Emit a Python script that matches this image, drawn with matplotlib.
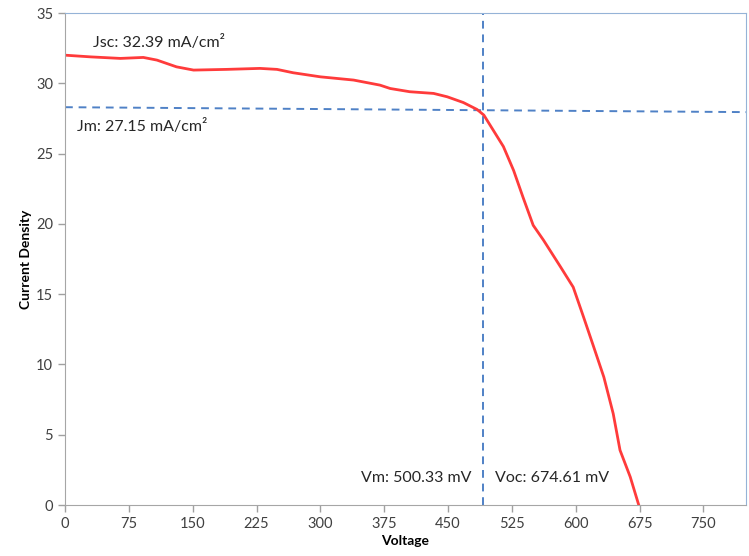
import matplotlib.pyplot as plt
import numpy as np

plt.rcParams['font.family'] = ['Lato', 'DejaVu Sans']

# J-V curve
voltage = [0, 30, 65, 92, 108, 131, 151, 190, 229, 249, 268, 300, 339, 370, 382, 405,
           433, 449, 468, 484, 492, 503, 515, 527, 538, 550, 562, 582, 597, 609, 621,
           633, 644, 652, 664, 674]
current = [32.0, 31.88, 31.77, 31.84, 31.65, 31.17, 30.94, 30.99, 31.06, 30.99, 30.75,
           30.46, 30.23, 29.87, 29.63, 29.4, 29.28, 29.04, 28.63, 28.14, 27.74, 26.67,
           25.5, 23.8, 21.9, 19.9, 18.85, 16.95, 15.5, 13.4, 11.26, 9.1, 6.5, 3.9, 2.0, 0.0]

vm_line = 491
jm_line_x = [0, 800]
jm_line_y = [28.3, 27.95]

xticks = [0, 75, 150, 225, 300, 375, 450, 525, 600, 675, 750]
yticks = [0, 5, 10, 15, 20, 25, 30, 35]

fig = plt.figure(figsize=(7.49, 5.56), dpi=100)
ax = fig.add_axes([0.0868, 0.0917, 0.9092, 0.8849])

blue = '#4F81C6'
ax.plot(jm_line_x, jm_line_y, color=blue, lw=1.4, ls=(0, (4, 3)))
ax.axvline(vm_line, color=blue, lw=1.4, ls=(0, (4, 3)))
ax.plot(voltage, current, color='#FF3B3B', lw=2, solid_joinstyle='round')

ax.set_xlim(0, 800)
ax.set_ylim(0, 35)
ax.set_xticks(xticks)
ax.set_yticks(yticks)
ax.tick_params(colors='#A0A0A0', labelcolor='#404040', labelsize=10.5, length=5, width=1)

for s in ['left', 'bottom']:
    ax.spines[s].set_color('#A6A6A6')
for s in ['top', 'right']:
    ax.spines[s].set_color('#95B3D7')

ax.set_xlabel('Voltage', fontweight='bold', fontsize=10, labelpad=3)
ax.set_ylabel('Current Density', fontweight='bold', fontsize=10, labelpad=3)

tk = dict(fontsize=11.5, color='#262626', va='center')
ax.text(33, 32.9, 'Jsc: 32.39 mA/cm²', **tk)
ax.text(14, 26.9, 'Jm: 27.15 mA/cm²', **tk)
ax.text(478, 1.9, 'Vm: 500.33 mV', ha='right', **tk)
ax.text(505, 1.9, 'Voc: 674.61 mV', **tk)

fig.savefig('out.png', dpi=100)
